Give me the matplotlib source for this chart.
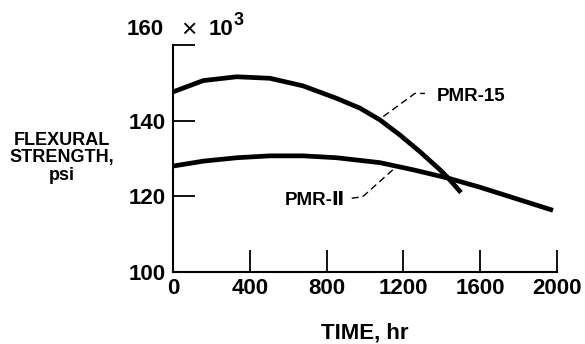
import numpy as np
import matplotlib
matplotlib.use("Agg")
import matplotlib.pyplot as plt

# values (time in hr, strength in ksi)
pmr15_time = [0, 158, 332, 505, 677, 852, 974, 1078, 1182, 1286, 1391, 1434, 1500]
pmr15_strength = [147.6, 150.6, 151.6, 151.2, 149.2, 145.9, 143.3, 140.2, 136.2, 131.8,
                  127.0, 124.8, 121.0]

pmr2_time = [0, 158, 332, 505, 677, 852, 1078, 1252, 1434, 1599, 1979]
pmr2_strength = [128.0, 129.3, 130.2, 130.7, 130.7, 130.2, 128.9, 127.0, 124.8, 122.4, 116.3]

x_ticks = [0, 400, 800, 1200, 1600, 2000]
y_ticks = [100, 120, 140, 160]

plt.rcParams['font.family'] = ['Liberation Sans', 'DejaVu Sans']
plt.rcParams['font.weight'] = 'bold'

fig = plt.figure(figsize=(5.85, 3.44), dpi=100)
ax = fig.add_axes([173 / 585, 1 - 272 / 344, (557 - 173) / 585, (272 - 45) / 344])

ax.plot(pmr15_time, pmr15_strength, color='black', lw=3.4, solid_capstyle='butt',
        solid_joinstyle='round')
ax.plot(pmr2_time, pmr2_strength, color='black', lw=3.4, solid_capstyle='butt',
        solid_joinstyle='round')

ax.set_xlim(0, 2000)
ax.set_ylim(100, 160)
ax.spines['top'].set_visible(False)
ax.spines['right'].set_visible(False)
for s in ['left', 'bottom']:
    ax.spines[s].set_linewidth(1.5)

ax.set_xticks(x_ticks)
ax.set_xticklabels([str(t) for t in x_ticks])
ax.set_yticks(y_ticks)
ax.set_yticklabels([str(t) if t != 160 else '' for t in y_ticks])
ax.tick_params(direction='in', length=16, width=1.3, labelsize=16)
ax.tick_params(axis='y', pad=5)
ax.tick_params(axis='x', pad=4)

# leader lines
ax.plot([1095, 1260, 1312], [141.1, 147.2, 147.2], color='black', lw=1.0, dashes=(5, 3))
ax.text(1375, 146.4, 'PMR-15', fontsize=13.5, va='center', ha='left')
ax.plot([931, 988, 1147], [119.5, 119.9, 127.1], color='black', lw=1.0, dashes=(5, 3))
ax.text(896, 119.0, 'PMR-\u2161', fontsize=13.5, va='center', ha='right')

# top label 160 x 10^3
ax.annotate('160', xy=(0, 160), xytext=(-9, 16), textcoords='offset pixels',
            ha='right', va='center', fontsize=16)
ax.annotate('\u00d7', xy=(0, 160), xytext=(16, 15), textcoords='offset pixels',
            ha='center', va='center', fontsize=19, fontweight='normal')
ax.annotate('10', xy=(0, 160), xytext=(36, 16), textcoords='offset pixels',
            ha='left', va='center', fontsize=16)
ax.annotate('3', xy=(0, 160), xytext=(61, 25), textcoords='offset pixels',
            ha='left', va='center', fontsize=13)

fig.text(62 / 585, 1 - 158 / 344, 'FLEXURAL\nSTRENGTH,\npsi', ha='center', va='center',
         fontsize=13, linespacing=1.05)
fig.text(365 / 585, 1 - 333 / 344, 'TIME, hr', ha='center', va='center', fontsize=16)

fig.savefig('out.png', dpi=100)
